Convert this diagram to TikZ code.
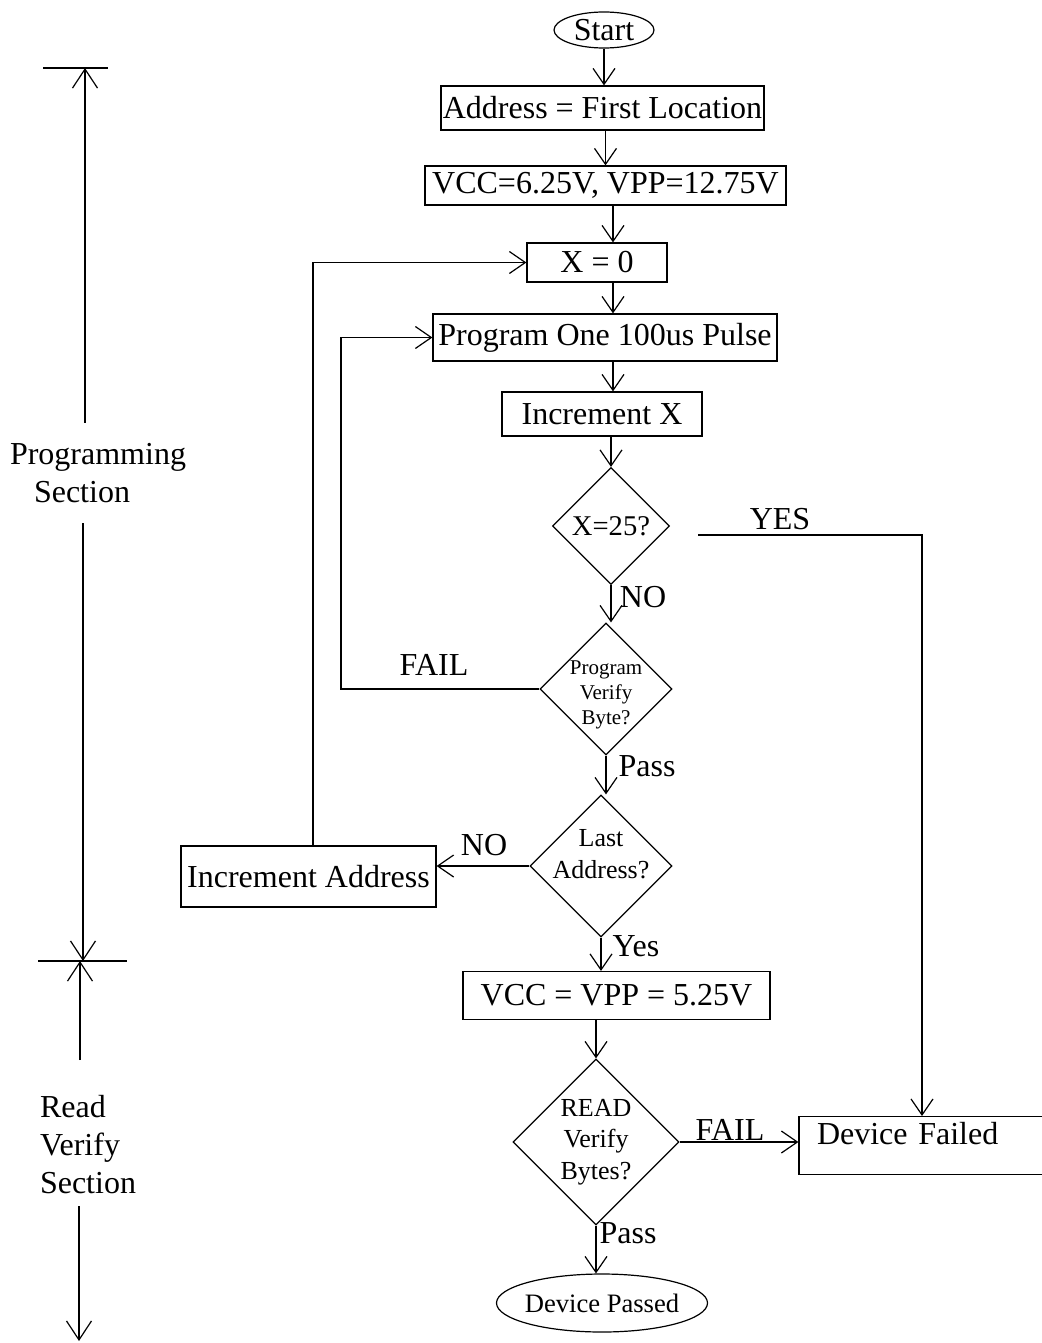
\documentclass[tikz,border=0pt]{standalone}
\usepackage{fontspec}
\setmainfont{Liberation Serif}
\usetikzlibrary{shapes.geometric,arrows.meta}

\begin{document}
\begin{tikzpicture}[x=0.5pt,y=-0.5pt,line width=0.6pt]
\tikzset{every node/.style={font=\fontsize{16}{19}\selectfont}}
\tikzset{flow/.style={-{Straight Barb[length=8pt,width=11pt]}}}
\tikzset{span/.style={-{Straight Barb[length=9.5pt,width=12.5pt]}}}
\tikzset{box/.style={draw,rectangle,inner xsep=0.5pt,inner ysep=0pt}}
\tikzset{oval/.style={draw,ellipse,inner xsep=-1.5pt,inner ysep=0pt}}
\tikzset{test/.style={draw,diamond,aspect=1,inner sep=-1pt,align=center}}

\useasboundingbox (0,0) rectangle (1041,1343);

\node[oval,minimum width=50pt,minimum height=18pt] (start) at (604,30) {Start};
\node[box,minimum width=161.5pt,minimum height=22pt] (addr) at (602.5,108) {Address = First Location};
\node[box,minimum width=180.5pt,minimum height=19.5pt] (vcc) at (605.5,185.5) {VCC=6.25V, VPP=12.75V};
\node[box,minimum width=70pt,minimum height=19.5pt] (xzero) at (597,262.5) {X = 0};
\node[box,minimum width=172pt,minimum height=23.5pt] (pulse) at (605,337.5) {Program One 100us Pulse};
\node[box,minimum width=100pt,minimum height=22pt] (incx) at (602,414) {Increment X};
\node[test,minimum size=58.5pt,font=\fontsize{14.3}{17}\selectfont] (xtest) at (611,526) {X=25?};
\node[test,minimum size=66pt,inner sep=-3pt,text height=38pt,text depth=2.3pt,
  font=\fontsize{10.5}{12.5}\selectfont] (pvb) at (606,689) {Program\\Verify\\Byte?};
\node[test,minimum size=71pt,inner sep=-4.5pt,text height=25.2pt,text depth=13.2pt,
  font=\fontsize{13}{16}\selectfont] (last) at (601,866) {Last\\Address?};
\node[box,minimum width=127.5pt,minimum height=30.5pt] (incaddr) at (308.5,876.5) {Increment Address};
\node[box,minimum width=153.5pt,minimum height=24pt] (vpp) at (616.5,995.5) {VCC = VPP = 5.25V};
\node[test,minimum size=83pt,font=\fontsize{13}{15.7}\selectfont] (rvb) at (596,1142) {READ\\Verify\\Bytes?};
\node[box,anchor=north,text width=105pt,inner xsep=9pt,align=left,text height=14pt,text depth=15pt] (failed) at (922,1116) {Device Failed};
\node[oval,minimum width=105.5pt,minimum height=29pt,font=\fontsize{13.3}{16}\selectfont] (passed) at (602,1303) {Device Passed};

\node (yeslbl) at (780,519) {YES};
\node (nolbl) at (643,597) {NO};
\node (faillbl) at (434,665) {FAIL};
\node (passlbl) at (647,766) {Pass};
\node (nolbltwo) at (484,845) {NO};
\node (yeslbltwo) at (636,946) {Yes};
\node (faillbltwo) at (730,1130) {FAIL};
\node (passlbltwo) at (628,1233) {Pass};

\node[align=left,inner ysep=10pt] (progsec) at (98,473) {Programming\\\hspace*{12pt}Section};
\node[align=left,inner ysep=6pt] (readsec) at (88,1144.5) {Read\\Verify\\Section};

\coordinate (col) at (613,0);
\coordinate (yesgap) at (698,535);
\coordinate (failx) at (341,0);
\coordinate (loopx) at (313,0);
\coordinate (ptop) at (85,68);
\coordinate (pbar) at (83,961);
\coordinate (rtop) at (80,1060);
\coordinate (rbot) at (79,1341);

\draw[flow] (start.south) -- (start.south |- addr.north);
\draw[flow] (addr.south -| vcc.north) -- (vcc.north);
\draw[flow] (vcc.south -| col) -- (xzero.north -| col);
\draw[flow] (xzero.south -| col) -- (pulse.north -| col);
\draw[flow] (pulse.south -| col) -- (incx.north -| col);
\draw[flow] (incx.south -| xtest.north) -- (xtest.north);
\draw[flow] (xtest.south) -- (xtest.south |- pvb.north);
\draw[flow] (pvb.south) -- (pvb.south |- last.north);
\draw[flow] (last.south) -- (last.south |- vpp.north);
\draw[flow] (vpp.south -| rvb.north) -- (rvb.north);
\draw[flow] (rvb.south) -- (rvb.south |- passed.north);

\draw[flow] (yesgap) -| (failed.north);
\draw[flow] (pvb.west) -- (pvb.west -| failx) |- (pulse.west);
\draw[flow] (last.west) -- (last.west -| incaddr.east);
\draw[flow] (incaddr.north -| loopx) |- (xzero.west);
\draw[flow] (rvb.east) -- (rvb.east -| failed.west);

\draw (43,68) -- (108,68);
\draw (38,961) -- (127,961);
\draw[span] (progsec.north -| ptop) -- (ptop);
\draw[span] (progsec.south -| pbar) -- (pbar);
\draw[span] (rtop) -- (rtop |- pbar);
\draw[span] (readsec.south -| rbot) -- (rbot);

\end{tikzpicture}
\end{document}
